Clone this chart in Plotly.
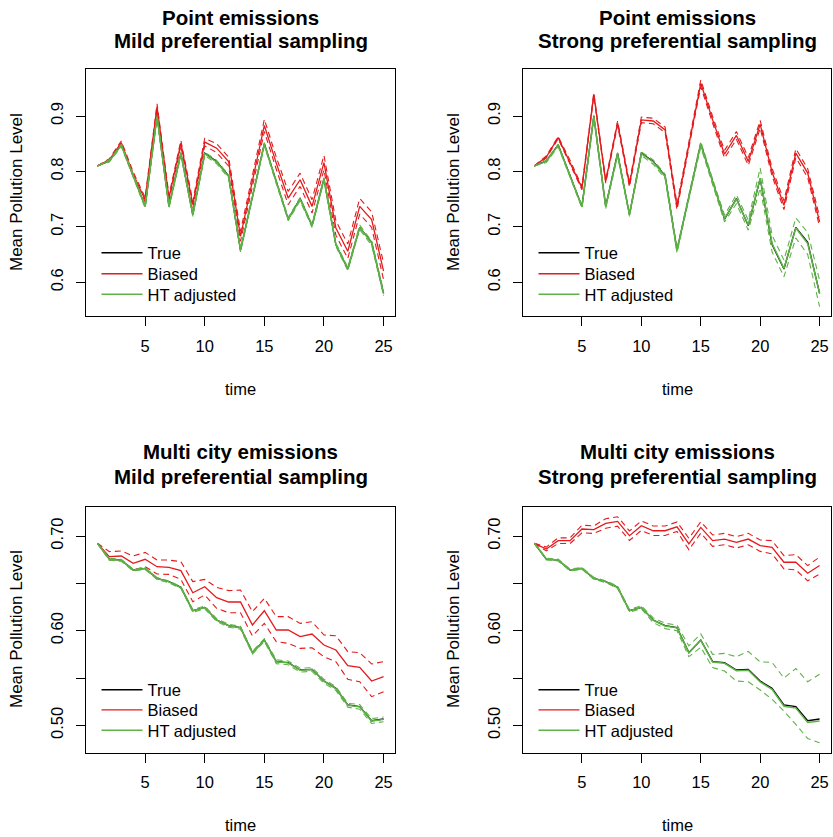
import plotly.graph_objects as go
from plotly.subplots import make_subplots

time = list(range(1, 26))

# ---- Point emissions (top panels) ----
true_point = [0.810, 0.819, 0.848, 0.791, 0.737, 0.900, 0.737, 0.833, 0.722, 0.833, 0.818, 0.792, 0.658,
              0.754, 0.850, 0.782, 0.714, 0.751, 0.702, 0.787, 0.668, 0.624, 0.699, 0.672, 0.580]

# mild
biased_pm = [0.810, 0.821, 0.852, 0.795, 0.749, 0.917, 0.752, 0.851, 0.740, 0.853, 0.842, 0.818, 0.683,
             0.783, 0.883, 0.815, 0.752, 0.785, 0.737, 0.816, 0.698, 0.656, 0.737, 0.713, 0.620]
biased_pm_hi = [0.810, 0.823, 0.855, 0.799, 0.753, 0.922, 0.757, 0.856, 0.746, 0.860, 0.850, 0.826, 0.692,
                0.793, 0.894, 0.826, 0.764, 0.797, 0.749, 0.829, 0.711, 0.669, 0.751, 0.727, 0.635]
biased_pm_lo = [0.810, 0.819, 0.849, 0.791, 0.745, 0.912, 0.747, 0.846, 0.734, 0.846, 0.834, 0.810, 0.674,
                0.773, 0.872, 0.804, 0.740, 0.773, 0.725, 0.803, 0.685, 0.643, 0.723, 0.699, 0.605]
ht_pm = [0.810, 0.819, 0.847, 0.791, 0.737, 0.899, 0.737, 0.832, 0.722, 0.832, 0.817, 0.791, 0.658,
         0.754, 0.849, 0.781, 0.714, 0.750, 0.702, 0.786, 0.668, 0.624, 0.699, 0.671, 0.580]
ht_pm_hi = [0.810, 0.821, 0.849, 0.794, 0.740, 0.902, 0.740, 0.835, 0.725, 0.835, 0.820, 0.794, 0.661,
            0.757, 0.852, 0.784, 0.717, 0.753, 0.705, 0.789, 0.671, 0.627, 0.703, 0.675, 0.584]
ht_pm_lo = [0.810, 0.817, 0.845, 0.788, 0.734, 0.896, 0.734, 0.829, 0.719, 0.829, 0.814, 0.788, 0.655,
            0.751, 0.846, 0.778, 0.711, 0.747, 0.699, 0.783, 0.665, 0.621, 0.695, 0.667, 0.576]

# strong
biased_ps = [0.810, 0.826, 0.861, 0.817, 0.770, 0.939, 0.782, 0.887, 0.776, 0.893, 0.891, 0.875, 0.736,
             0.848, 0.959, 0.893, 0.831, 0.865, 0.818, 0.885, 0.799, 0.739, 0.833, 0.797, 0.709]
biased_ps_hi = [0.810, 0.828, 0.863, 0.820, 0.773, 0.942, 0.785, 0.891, 0.780, 0.898, 0.896, 0.880, 0.741,
                0.853, 0.965, 0.899, 0.838, 0.872, 0.825, 0.892, 0.806, 0.747, 0.841, 0.805, 0.718]
biased_ps_lo = [0.810, 0.824, 0.859, 0.814, 0.767, 0.936, 0.779, 0.883, 0.772, 0.888, 0.886, 0.870, 0.731,
                0.843, 0.953, 0.887, 0.824, 0.858, 0.811, 0.878, 0.792, 0.731, 0.825, 0.789, 0.700]
ht_ps = [0.810, 0.818, 0.847, 0.792, 0.736, 0.899, 0.736, 0.831, 0.722, 0.832, 0.817, 0.791, 0.657,
         0.754, 0.849, 0.781, 0.715, 0.750, 0.703, 0.788, 0.670, 0.625, 0.698, 0.670, 0.580]
ht_ps_hi = [0.810, 0.820, 0.849, 0.794, 0.738, 0.902, 0.739, 0.834, 0.725, 0.835, 0.821, 0.795, 0.661,
            0.758, 0.854, 0.786, 0.721, 0.758, 0.712, 0.806, 0.685, 0.640, 0.716, 0.690, 0.604]
ht_ps_lo = [0.810, 0.816, 0.845, 0.790, 0.734, 0.896, 0.733, 0.828, 0.719, 0.829, 0.813, 0.787, 0.653,
            0.750, 0.844, 0.776, 0.709, 0.742, 0.694, 0.770, 0.655, 0.610, 0.680, 0.650, 0.556]

# ---- Multi city emissions (bottom panels) ----
true_multi = [0.6923, 0.6757, 0.6746, 0.6641, 0.6658, 0.6553, 0.6518, 0.6458, 0.6211, 0.6246, 0.6113, 0.6053,
              0.6032, 0.5768, 0.5901, 0.5673, 0.5662, 0.5585, 0.5592, 0.5468, 0.5391, 0.5215, 0.5197, 0.5049, 0.5067]

# mild
biased_mm = [0.6923, 0.6782, 0.6789, 0.6711, 0.6754, 0.6676, 0.6669, 0.6634, 0.6401, 0.6465, 0.6349, 0.6303,
             0.6303, 0.6060, 0.6211, 0.6007, 0.6007, 0.5937, 0.5965, 0.5849, 0.5796, 0.5630, 0.5613, 0.5468, 0.5514]
biased_mm_hi = [0.6923, 0.6835, 0.6842, 0.6789, 0.6827, 0.6746, 0.6746, 0.6729, 0.6518, 0.6542, 0.6458, 0.6423,
                0.6430, 0.6201, 0.6342, 0.6148, 0.6148, 0.6077, 0.6095, 0.5954, 0.5947, 0.5778, 0.5768, 0.5648, 0.5673]
biased_mm_lo = [0.6923, 0.6746, 0.6739, 0.6641, 0.6676, 0.6599, 0.6595, 0.6542, 0.6306, 0.6377, 0.6236, 0.6190,
                0.6190, 0.5944, 0.6077, 0.5884, 0.5866, 0.5813, 0.5820, 0.5725, 0.5673, 0.5486, 0.5461, 0.5303, 0.5356]
ht_mm = [0.6923, 0.6755, 0.6744, 0.6640, 0.6656, 0.6551, 0.6516, 0.6456, 0.6210, 0.6245, 0.6112, 0.6052,
         0.6031, 0.5767, 0.5900, 0.5672, 0.5660, 0.5583, 0.5590, 0.5466, 0.5389, 0.5212, 0.5195, 0.5045, 0.5063]
ht_mm_hi = [0.6923, 0.6765, 0.6754, 0.6650, 0.6666, 0.6561, 0.6526, 0.6466, 0.6225, 0.6260, 0.6127, 0.6067,
            0.6046, 0.5782, 0.5915, 0.5692, 0.5680, 0.5603, 0.5610, 0.5486, 0.5409, 0.5232, 0.5220, 0.5070, 0.5088]
ht_mm_lo = [0.6923, 0.6745, 0.6734, 0.6630, 0.6646, 0.6541, 0.6506, 0.6446, 0.6195, 0.6230, 0.6097, 0.6037,
            0.6016, 0.5752, 0.5885, 0.5652, 0.5640, 0.5563, 0.5570, 0.5446, 0.5369, 0.5192, 0.5170, 0.5020, 0.5038]

# strong
biased_ms = [0.6923, 0.6863, 0.6951, 0.6951, 0.7074, 0.7067, 0.7133, 0.7154, 0.7004, 0.7109, 0.7056, 0.7056,
             0.7098, 0.6916, 0.7091, 0.6951, 0.6968, 0.6933, 0.6968, 0.6898, 0.6881, 0.6723, 0.6723, 0.6607, 0.6688]
biased_ms_hi = [0.6923, 0.6883, 0.6981, 0.6981, 0.7114, 0.7107, 0.7183, 0.7204, 0.7054, 0.7159, 0.7106, 0.7106,
                0.7148, 0.6976, 0.7151, 0.7011, 0.7028, 0.6993, 0.7028, 0.6958, 0.6951, 0.6793, 0.6803, 0.6687, 0.6778]
biased_ms_lo = [0.6923, 0.6843, 0.6921, 0.6921, 0.7034, 0.7027, 0.7083, 0.7104, 0.6954, 0.7059, 0.7006, 0.7006,
                0.7048, 0.6856, 0.7031, 0.6891, 0.6908, 0.6873, 0.6908, 0.6838, 0.6811, 0.6653, 0.6643, 0.6527, 0.6598]
ht_ms = [0.6923, 0.6757, 0.6746, 0.6641, 0.6658, 0.6553, 0.6518, 0.6458, 0.6211, 0.6246, 0.6110, 0.6050,
         0.6030, 0.5765, 0.5898, 0.5668, 0.5655, 0.5578, 0.5583, 0.5458, 0.5380, 0.5202, 0.5182, 0.5030, 0.5045]
ht_ms_hi = [0.6923, 0.6767, 0.6756, 0.6651, 0.6668, 0.6563, 0.6528, 0.6470, 0.6225, 0.6262, 0.6135, 0.6078,
            0.6060, 0.5840, 0.5965, 0.5750, 0.5760, 0.5725, 0.5780, 0.5670, 0.5665, 0.5500, 0.5600, 0.5460, 0.5540]
ht_ms_lo = [0.6923, 0.6747, 0.6736, 0.6631, 0.6648, 0.6543, 0.6508, 0.6446, 0.6197, 0.6230, 0.6085, 0.6022,
            0.6000, 0.5725, 0.5825, 0.5610, 0.5574, 0.5468, 0.5460, 0.5373, 0.5275, 0.5150, 0.5010, 0.4860, 0.4816]

series_names = ["True", "Biased", "HT adjusted"]

panels = [
    dict(row=1, col=1, true=true_point, b=biased_pm, bhi=biased_pm_hi, blo=biased_pm_lo,
         h=ht_pm, hhi=ht_pm_hi, hlo=ht_pm_lo),
    dict(row=1, col=2, true=true_point, b=biased_ps, bhi=biased_ps_hi, blo=biased_ps_lo,
         h=ht_ps, hhi=ht_ps_hi, hlo=ht_ps_lo),
    dict(row=2, col=1, true=true_multi, b=biased_mm, bhi=biased_mm_hi, blo=biased_mm_lo,
         h=ht_mm, hhi=ht_mm_hi, hlo=ht_mm_lo),
    dict(row=2, col=2, true=true_multi, b=biased_ms, bhi=biased_ms_hi, blo=biased_ms_lo,
         h=ht_ms, hhi=ht_ms_hi, hlo=ht_ms_lo),
]

RED = "#E41A1C"
GREEN = "#5DB346"
BLACK = "#000000"
FONT = "Liberation Sans, Arial, Helvetica, sans-serif"
DASH = "6px,4px"

W, H = 833, 837
def px_x(v):
    return v / W
def px_y(v):
    return 1 - v / H

def lname(k):
    return "legend" if k == 1 else "legend" + str(k)

fig = make_subplots(rows=2, cols=2)

for pi, p in enumerate(panels):
    r, c = p["row"], p["col"]
    base = pi * 3
    fig.add_trace(go.Scatter(x=time, y=p["true"], mode="lines", name=series_names[0],
                             line=dict(color=BLACK, width=1.3), legend=lname(base + 1)), row=r, col=c)
    fig.add_trace(go.Scatter(x=time, y=p["b"], mode="lines", name=series_names[1],
                             line=dict(color=RED, width=1.3), legend=lname(base + 2)), row=r, col=c)
    fig.add_trace(go.Scatter(x=time, y=p["bhi"], mode="lines", showlegend=False,
                             line=dict(color=RED, width=1.1, dash=DASH)), row=r, col=c)
    fig.add_trace(go.Scatter(x=time, y=p["blo"], mode="lines", showlegend=False,
                             line=dict(color=RED, width=1.1, dash=DASH)), row=r, col=c)
    fig.add_trace(go.Scatter(x=time, y=p["h"], mode="lines", name=series_names[2],
                             line=dict(color=GREEN, width=1.5), legend=lname(base + 3)), row=r, col=c)
    fig.add_trace(go.Scatter(x=time, y=p["hhi"], mode="lines", showlegend=False,
                             line=dict(color=GREEN, width=1.1, dash=DASH)), row=r, col=c)
    fig.add_trace(go.Scatter(x=time, y=p["hlo"], mode="lines", showlegend=False,
                             line=dict(color=GREEN, width=1.1, dash=DASH)), row=r, col=c)

xdom_left = [px_x(86), px_x(395)]
xdom_right = [px_x(523), px_x(831)]
ydom_top = [px_y(316), px_y(69)]
ydom_bot = [px_y(752.5), px_y(506.5)]

axis_common = dict(showline=True, mirror=True, linecolor="black", linewidth=1, ticks="outside",
                   ticklen=9, tickwidth=1, tickcolor="black", showgrid=False, zeroline=False,
                   tickfont=dict(family=FONT, size=16.5, color="black"))

xticks = [5, 10, 15, 20, 25]
top_yticks = [0.6, 0.7, 0.8, 0.9]
top_ylabels = ["0.6", "0.7", "0.8", "0.9"]
bot_yticks = [0.50, 0.55, 0.60, 0.65, 0.70]
bot_ylabels = ["0.50", "", "0.60", "", "0.70"]

for i, (xd, yd) in enumerate([(xdom_left, ydom_top), (xdom_right, ydom_top),
                              (xdom_left, ydom_bot), (xdom_right, ydom_bot)]):
    n = "" if i == 0 else str(i + 1)
    fig.layout["xaxis" + n].update(domain=xd, range=[0.04, 25.96], tickvals=xticks,
                                   ticklabelstandoff=6, **axis_common)
    top = i < 2
    fig.layout["yaxis" + n].update(domain=yd,
                                   range=[0.5392, 0.9848] if top else [0.4713, 0.7312],
                                   tickvals=top_yticks if top else bot_yticks,
                                   ticktext=top_ylabels if top else bot_ylabels,
                                   tickangle=-90, ticklabelstandoff=6, **axis_common)

titles = [("Point emissions", "Mild preferential sampling", 240.5, 17, 41),
          ("Point emissions", "Strong preferential sampling", 677, 17, 41),
          ("Multi city emissions", "Mild preferential sampling", 240.5, 452, 476),
          ("Multi city emissions", "Strong preferential sampling", 677, 452, 476)]
annotations = []
for t1, t2, cx, y1, y2 in titles:
    for t, yy in ((t1, y1), (t2, y2)):
        annotations.append(dict(text="<b>" + t + "</b>", x=px_x(cx), y=px_y(yy), xref="paper", yref="paper",
                                xanchor="center", yanchor="middle", showarrow=False,
                                font=dict(family=FONT, size=20.5, color="black")))
for cx, cy in ((240.5, 389), (677, 389), (240.5, 825), (677, 825)):
    annotations.append(dict(text="time", x=px_x(cx), y=px_y(cy), xref="paper", yref="paper",
                            xanchor="center", yanchor="middle", showarrow=False,
                            font=dict(family=FONT, size=16.5, color="black")))
for cx, cy in ((16.5, 192.5), (453.5, 192.5), (16.5, 629.5), (453.5, 629.5)):
    annotations.append(dict(text="Mean Pollution Level", x=px_x(cx), y=px_y(cy), xref="paper", yref="paper",
                            xanchor="center", yanchor="middle", textangle=-90, showarrow=False,
                            font=dict(family=FONT, size=17, color="black")))

legend_style = dict(bgcolor="rgba(0,0,0,0)", borderwidth=0, itemwidth=41,
                    font=dict(family=FONT, size=16.5, color="black"),
                    xref="paper", yref="paper", xanchor="left", yanchor="top")
# one legend per entry so row spacing matches the reference
row_y = {0: [253.5, 274.5, 295.0], 1: [690.5, 710.7, 731.0]}
col_x = {0: 96.5, 1: 533.5}
layout_legends = {}
for pi, p in enumerate(panels):
    for j in range(3):
        k = pi * 3 + j + 1
        lx = col_x[p["col"] - 1]
        ly = row_y[p["row"] - 1][j] - 18
        layout_legends[lname(k)] = dict(x=px_x(lx), y=px_y(ly), **legend_style)

fig.update_layout(width=W, height=H, margin=dict(l=0, r=0, t=0, b=0),
                  paper_bgcolor="white", plot_bgcolor="white",
                  annotations=annotations, showlegend=True, **layout_legends)

fig.write_html("out.html", config={"displayModeBar": False},
               post_script="document.body.style.margin='0';document.body.style.overflow='hidden';")
